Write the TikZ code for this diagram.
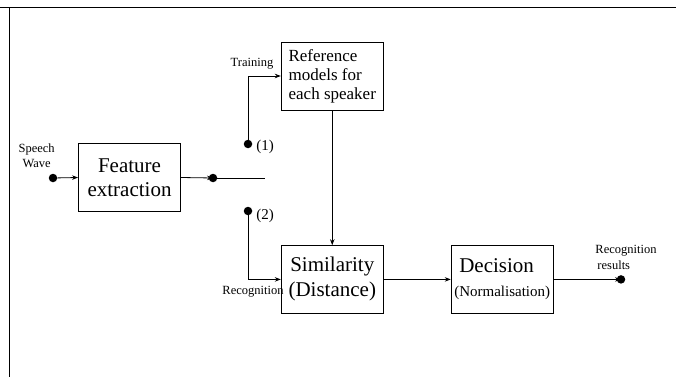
\documentclass[tikz,border=0pt]{standalone}
\usepackage{fontspec}
\setmainfont{Liberation Serif}
\usetikzlibrary{arrows.meta}
\begin{document}
\begin{tikzpicture}[x=1pt,y=-1pt,
  blk/.style={draw, line width=0.9pt, inner sep=0pt, minimum width=102pt, minimum height=67.5pt},
  dotnode/.style={circle, fill=black, inner sep=0pt, minimum size=8.5pt},
  arr/.style={-{Stealth[length=6pt,width=4.5pt]}, line width=0.8pt},
  ln/.style={line width=0.8pt},
  small/.style={font=\fontsize{12.5}{15.5}\selectfont, inner sep=0pt, align=center},
  num/.style={font=\fontsize{15}{17}\selectfont, inner sep=0pt}
]
\useasboundingbox (0,0) rectangle (676,377);
% frame
\draw[line width=0.8pt] (0,7.5) -- (676,7.5);
\draw[line width=0.8pt] (9.5,7.5) -- (9.5,377);

% blocks
\node[blk, align=center, font=\fontsize{21}{24}\selectfont] (feat) at (129.5,177.5) {Feature\\extraction};
\node[blk, align=left, font=\fontsize{17}{19}\selectfont, minimum height=68pt] (ref) at (332.25,76) {Reference\\models for\\each speaker};
\node[blk, align=center, font=\fontsize{21}{25}\selectfont] (sim) at (332.25,279.4) {Similarity\\(Distance)};
\node[blk, align=left] (dec) at (502.2,279.4) {\hspace*{5pt}\fontsize{21}{24}\selectfont Decision\\[12pt]\fontsize{15}{17}\selectfont(Normalisation)};

% dots
\node[dotnode] (speech) at (53,178) {};
\node[dotnode] (fdot) at (213,178) {};
\node[dotnode] (d1) at (248,144) {};
\node[dotnode] (d2) at (248,211) {};
\node[dotnode] (rdot) at (621,279.4) {};
\coordinate (sw) at (265,178);

% connectors
\draw[arr] (speech) -- (feat.west);
\draw[arr] (feat.east) -- (fdot.center);
\draw[ln] (fdot) -- (sw);
\draw[arr] (d1.center) |- (ref.west);
\draw[arr] (d2.center) |- (sim.west);
\draw[arr] (ref.south) -- (sim.north);
\draw[arr] (sim.east) -- (dec.west);
\draw[arr] (dec.east) -- (rdot.center);

% labels
\node[small] (lspeech) at (36.6,156) {Speech\\Wave};
\node[small] (ltrain) at (252,64) {Training};
\node[small] (lrecog) at (253,292) {Recognition};
\node[small, align=left] (lres) at (626,257.5) {Recognition\\\hspace*{2pt}results};
\node[num] (l1) at (265,146.5) {(1)};
\node[num] (l2) at (265,216) {(2)};
\end{tikzpicture}
\end{document}
